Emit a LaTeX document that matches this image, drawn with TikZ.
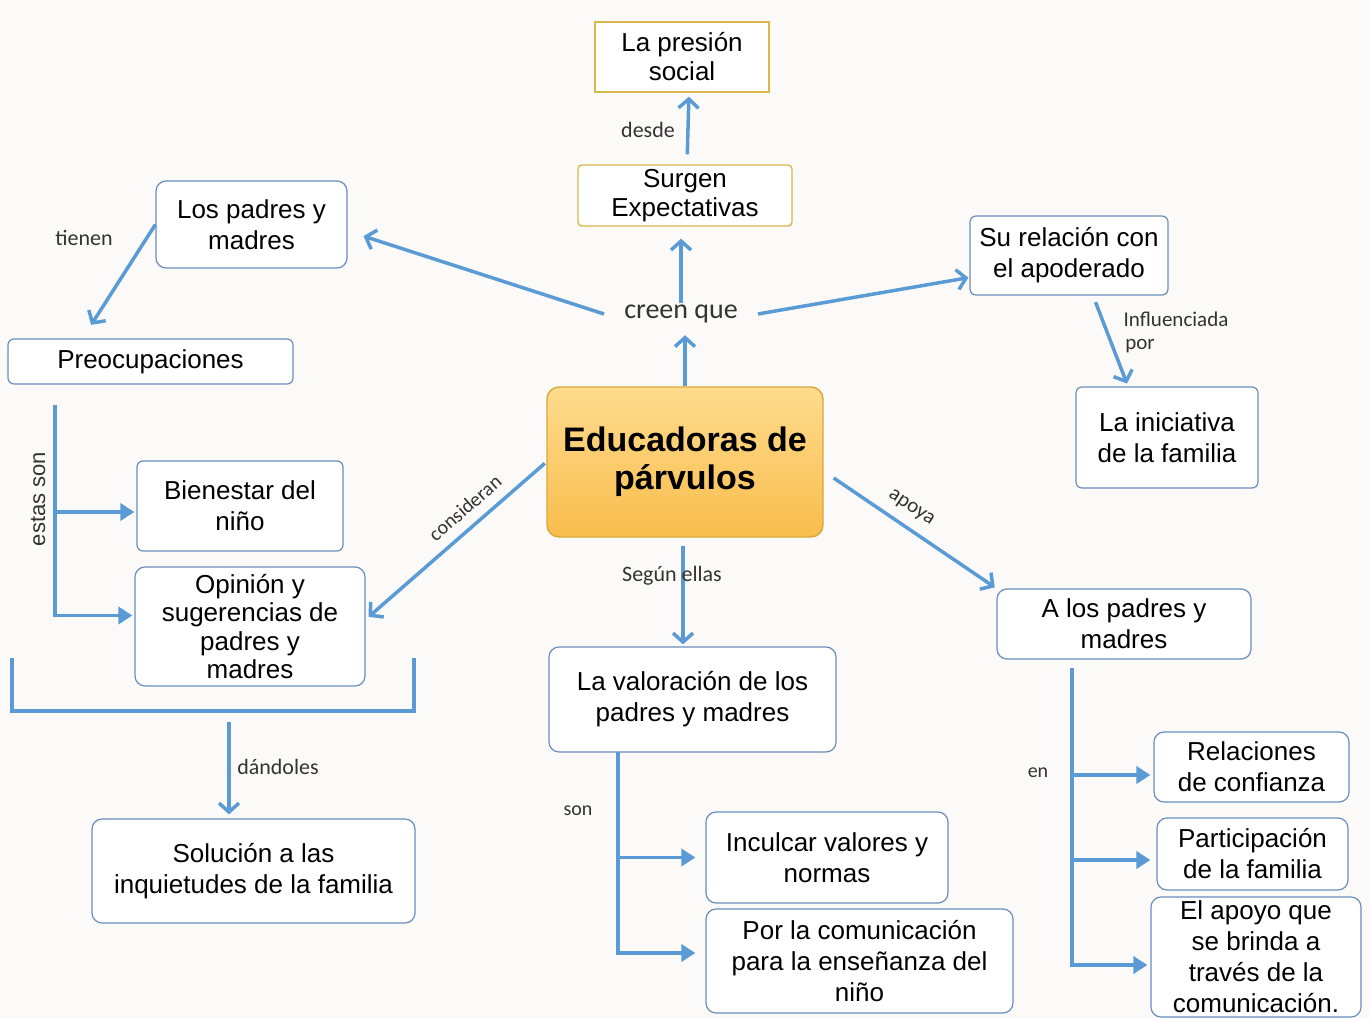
\documentclass[tikz,border=0pt]{standalone}
\usepackage{fontspec}
\setmainfont{Liberation Sans}
\newfontfamily\labfont{Carlito}
\usetikzlibrary{arrows.meta}
\definecolor{bg}{HTML}{FBFAF8}
\definecolor{arrowblue}{HTML}{5B9BD5}
\definecolor{boxborder}{HTML}{6A8DBE}
\definecolor{gold}{HTML}{D9B84A}
\definecolor{orangeT}{HTML}{FFDB8E}
\definecolor{orangeB}{HTML}{F8BD4C}
\definecolor{orangeborder}{HTML}{D9A83A}
\definecolor{labtext}{HTML}{333333}
\tikzset{
  box/.style={draw=boxborder, line width=1.2pt, rounded corners=10pt, fill=white,
    align=center, font=\fontsize{26}{31}\selectfont, inner sep=2pt},
  goldbox/.style={draw=gold, line width=1.4pt, fill=white, align=center,
    font=\fontsize{26}{29}\selectfont, inner sep=2pt},
  mainbox/.style={draw=orangeborder, line width=1.4pt, rounded corners=12pt,
    top color=orangeT, bottom color=orangeB, align=center,
    font=\bfseries\fontsize{34}{38}\selectfont, inner sep=2pt},
  conn/.style={draw=arrowblue, line width=3.5pt, -{Straight Barb[length=9pt,width=20pt,line width=3.5pt]}},
  branch/.style={draw=arrowblue, line width=3.5pt, -{Triangle[length=14pt,width=17pt]}},
  plain/.style={draw=arrowblue, line width=3.5pt},
  lab/.style={font=\labfont\fontsize{22}{26}\selectfont, text=labtext, inner sep=1pt},
}
\begin{document}
\begin{tikzpicture}[x=1pt,y=-1pt]
\useasboundingbox (0,0) rectangle (1370,1019);
\fill[bg] (0,0) rectangle (1370,1019);

% nodes
\node[goldbox, minimum width=174pt, minimum height=70pt] (pres) at (682,57) {La presión\\social};
\node[goldbox, rounded corners=4pt, minimum width=214pt, minimum height=61pt] (surg) at (685,195.5) {Surgen\\Expectativas};
\node[font=\labfont\fontsize{28}{30}\selectfont, text=labtext, inner xsep=20pt, inner ysep=2pt] (creen) at (681,314) {creen que};
\node[mainbox, minimum width=276pt, minimum height=150pt] (educ) at (685,462) {Educadoras de\\párvulos};

\node[box, minimum width=191pt, minimum height=87pt] (padres) at (251.5,224.5) {Los padres y\\madres};
\node[box, rounded corners=6pt, minimum width=285pt, minimum height=45pt] (preo) at (150.5,361.5) {Preocupaciones};
\node[box, rounded corners=6pt, minimum width=206pt, minimum height=90pt] (bien) at (240,506) {Bienestar del\\niño};
\node[box, minimum width=230pt, minimum height=119pt, font=\fontsize{26}{28.5}\selectfont] (opin) at (250,626.5) {Opinión y\\sugerencias de\\padres y\\madres};
\node[box, minimum width=323pt, minimum height=104pt] (sol) at (253.5,871) {Solución a las\\inquietudes de la familia};

\node[box, rounded corners=6pt, minimum width=198pt, minimum height=79pt] (rel) at (1069,255.5) {Su relación con\\el apoderado};
\node[box, rounded corners=6pt, minimum width=182pt, minimum height=101pt] (ini) at (1167,437.5) {La iniciativa\\de la familia};

\node[box, minimum width=254pt, minimum height=70pt] (alos) at (1124,624) {A los padres y\\madres};
\node[box, minimum width=195pt, minimum height=70pt] (rc) at (1251.5,767) {Relaciones\\de confianza};
\node[box, minimum width=191pt, minimum height=72pt] (part) at (1252.5,854) {Participación\\de la familia};
\node[box, minimum width=210pt, minimum height=120pt] (apoyo) at (1256,957) {El apoyo que\\se brinda a\\través de la\\comunicación.};

\node[box, minimum width=287pt, minimum height=105pt] (val) at (692.5,699.5) {La valoración de los\\padres y madres};
\node[box, minimum width=242pt, minimum height=91pt] (incul) at (827,857.5) {Inculcar valores y\\normas};
\node[box, minimum width=307pt, minimum height=104pt] (porla) at (859.5,961) {Por la comunicación\\para la enseñanza del\\niño};

% connectors (top)
\draw[conn, shorten >=10pt] (educ.north) -- (educ.north |- creen.south);
\draw[conn, shorten >=12pt] (creen.north) -- (creen.north |- surg.south);
\draw[conn, shorten <=10pt, shorten >=4pt] ([xshift=2pt]surg.north) -- ([xshift=7pt]pres.south);
\draw[conn, shorten >=2pt] (creen.west) -- ([xshift=14pt,yshift=-11pt]padres.east);
\draw[conn, shorten >=1pt] (creen.east) -- ([yshift=-22pt]rel.west);
\draw[conn, shorten <=7pt, shorten >=3pt] ([xshift=24pt]rel.south) -- ([xshift=-39pt]ini.north);
\draw[conn, shorten >=16pt] (padres.west) -- ([xshift=-68pt]preo.north);

% connectors (center)
\draw[conn, shorten <=2pt, shorten >=4pt] (educ.west) -- ([yshift=7pt]opin.east);
\draw[conn, shorten <=8pt, shorten >=2pt] ([xshift=-2pt]educ.south) -- ([xshift=-2pt]educ.south |- val.north);
\draw[conn, shorten >=2pt] ([xshift=10pt,yshift=-16pt]educ.east) -- (alos.north west);

% tree: Preocupaciones
\coordinate (t1) at (55,405);
\draw[branch, shorten >=2pt] (t1) |- ([yshift=-6pt]bien.west);
\draw[branch, shorten >=2pt] (t1) |- ([yshift=11pt]opin.west);

% bracket
\coordinate (b1) at (12,658);
\coordinate (b2) at (414,658);
\draw[plain] (b1) -- (12,711) -- (414,711) -- (b2);
\coordinate (brk) at (229,722);
\draw[conn, shorten >=4pt] (brk) -- (brk |- sol.north);

% tree: valoracion
\coordinate (t2) at (618,752);
\draw[branch, shorten >=10pt] (t2) |- (incul.west);
\draw[branch, shorten >=10pt] (t2) |- ([yshift=8pt]porla.west);

% tree: A los padres
\coordinate (t3) at (1072,668);
\draw[branch, shorten >=3pt] (t3) |- ([yshift=-8pt]rc.west);
\draw[branch, shorten >=6pt] (t3) |- ([yshift=-6pt]part.west);
\draw[branch, shorten >=3pt] (t3) |- ([yshift=-8pt]apoyo.west);

% labels
\node[lab] (ldesde) at (648,130) {desde};
\node[lab] (ltienen) at (84,238) {tienen};
\node[font=\fontsize{22}{26}\selectfont, text=labtext, rotate=90, inner sep=1pt] (lestas) at (38,499) {estas son};
\node[lab, rotate=41, font=\labfont\fontsize{20}{24}\selectfont] (lcons) at (465,508) {consideran};
\node[lab, rotate=-34, font=\labfont\fontsize{21}{24}\selectfont] (lapoya) at (911,508) {apoya};
\node[lab] (lsegun) at (672,576) {Según ellas};
\node[lab, font=\labfont\fontsize{21}{24}\selectfont] (linfl) at (1176,319) {Influenciada};
\node[lab, font=\labfont\fontsize{21}{24}\selectfont] (lpor) at (1140,346) {por};
\node[lab, font=\labfont\fontsize{20}{24}\selectfont] (lson) at (578,811) {son};
\node[lab, font=\labfont\fontsize{20}{24}\selectfont] (len) at (1038,773) {en};
\node[lab] (ldand) at (278,767) {dándoles};
\end{tikzpicture}
\end{document}
